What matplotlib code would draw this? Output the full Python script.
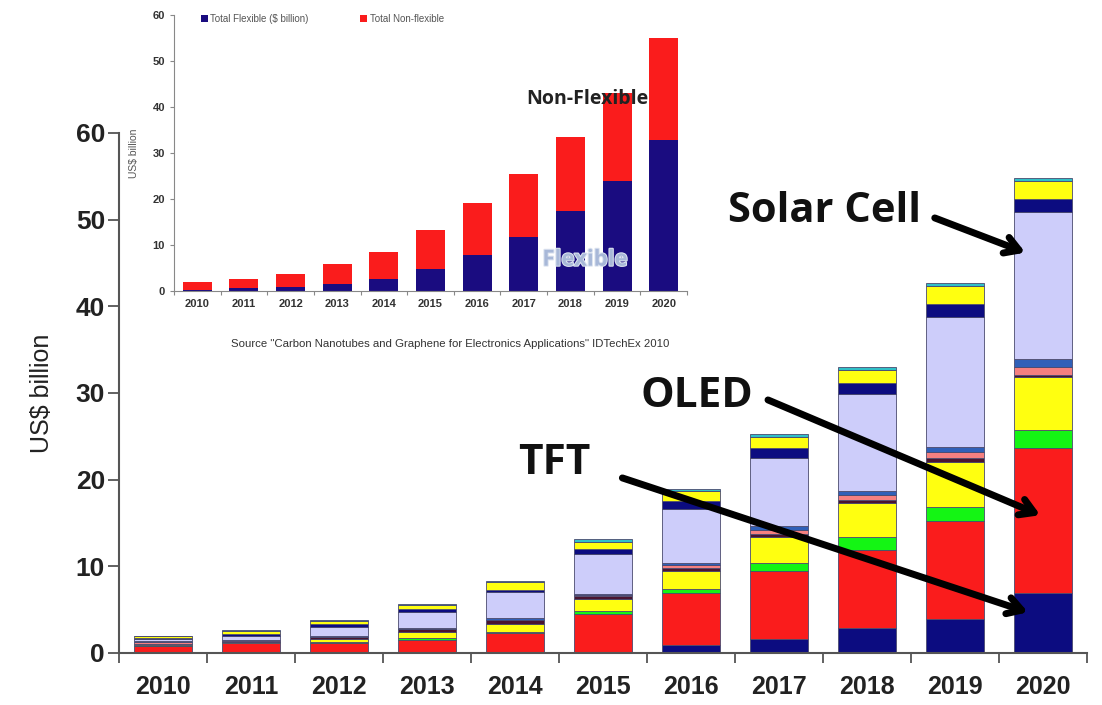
import matplotlib
matplotlib.use("Agg")
import matplotlib.pyplot as plt
import matplotlib.patheffects as pe
import numpy as np

plt.rcParams['font.family'] = ['Liberation Sans', 'DejaVu Sans']

years = ["2010", "2011", "2012", "2013", "2014", "2015", "2016", "2017", "2018", "2019", "2020"]

# main stacked series (bottom to top), US$ billion
tft_navy = [0.05, 0.05, 0.05, 0.05, 0.05, 0.15, 0.9, 1.6, 2.85, 3.9, 6.9]
oled_red = [0.8, 1.05, 1.1, 1.5, 2.3, 4.4, 6.0, 7.9, 9.0, 11.3, 16.8]
green_s = [0.05, 0.05, 0.1, 0.2, 0.05, 0.35, 0.5, 0.85, 1.5, 1.7, 2.0]
yellow_a = [0.1, 0.1, 0.4, 0.7, 1.0, 1.35, 2.1, 3.0, 4.0, 5.1, 6.2]
dark_s = [0.05, 0.15, 0.2, 0.3, 0.4, 0.35, 0.35, 0.4, 0.3, 0.46, 0.2]
salmon_s = [0.25, 0.05, 0.05, 0.05, 0.05, 0.1, 0.35, 0.45, 0.6, 0.7, 0.9]
steel_s = [0.1, 0.05, 0.05, 0.05, 0.15, 0.15, 0.2, 0.4, 0.5, 0.66, 0.9]
solar_lav = [0.2, 0.45, 1.05, 1.9, 3.0, 4.55, 6.2, 7.9, 11.1, 15.0, 17.0]
navy_b = [0.15, 0.2, 0.35, 0.3, 0.3, 0.55, 0.95, 1.15, 1.27, 1.5, 1.5]
yellow_b = [0.2, 0.35, 0.4, 0.45, 0.85, 0.9, 1.15, 1.3, 1.55, 2.0, 2.1]
teal_s = [0.05, 0.1, 0.05, 0.2, 0.15, 0.25, 0.25, 0.3, 0.38, 0.38, 0.3]

# inset series
inset_flex = [0.3, 0.6, 0.8, 1.6, 2.7, 4.7, 7.8, 11.8, 17.3, 24.0, 32.8]
inset_nonflex = [1.7, 2.1, 3.0, 4.2, 5.8, 8.6, 11.3, 13.6, 16.2, 19.0, 22.3]

series = [tft_navy, oled_red, green_s, yellow_a, dark_s, salmon_s, steel_s,
          solar_lav, navy_b, yellow_b, teal_s]
colors = ['#0c0c80', '#fa1c1c', '#14f514', '#ffff10', '#4a1530', '#f58080',
          '#3060b8', '#cdcdfa', '#0c0c80', '#ffff10', '#30c0c8']

W, H = 1102, 705
fig = plt.figure(figsize=(W / 100, H / 100), dpi=100)

ax = fig.add_axes([119 / W, 1 - 653 / H, (1087 - 119) / W, (653 - 133) / H])
x = np.arange(len(years))
bottom = np.zeros(len(years))
for vals, c in zip(series, colors):
    ax.bar(x, vals, bottom=bottom, width=0.67, color=c, edgecolor='#4a4a6e',
           linewidth=0.6)
    bottom += np.array(vals)

ax.set_xlim(-0.5, len(years) - 0.5)
ax.set_ylim(0, 60)
ax.set_yticks(np.arange(0, 61, 10))
ax.set_xticks(x)
ax.set_xticklabels(years)
ax.set_xticks(np.arange(-0.5, len(years), 1), minor=True)
ax.tick_params(axis='x', which='major', length=0, pad=16, labelsize=18,
               labelcolor='#222222')
ax.tick_params(axis='x', which='minor', length=7, width=1.3, color='#555555',
               direction='out')
ax.tick_params(axis='y', length=8, width=1.3, color='#555555', labelsize=19,
               labelcolor='#222222', pad=2)
for lab in ax.get_xticklabels() + ax.get_yticklabels():
    lab.set_fontweight('bold')
for s in ['top', 'right']:
    ax.spines[s].set_visible(False)
for s in ['left', 'bottom']:
    ax.spines[s].set_color('#555555')
    ax.spines[s].set_linewidth(1.5)
ax.set_ylabel('US$ billion', fontsize=18, color='#222222', labelpad=16)

# annotations
ann_font = ['Open Sans', 'DejaVu Sans']
arrow_kw = dict(arrowstyle='->,head_length=1.0,head_width=0.6', lw=5,
                color='black', shrinkA=0, shrinkB=0)
ax.annotate('', xy=(9.80, 46.2), xytext=(8.77, 50.2), arrowprops=arrow_kw)
ax.annotate('', xy=(9.97, 15.9), xytext=(6.875, 29.2), arrowprops=arrow_kw)
ax.annotate('', xy=(9.83, 4.7), xytext=(5.22, 20.2), arrowprops=arrow_kw)
ax.text(7.52, 51.0, 'Solar Cell', fontsize=30, fontweight='bold',
        family=ann_font, ha='center', va='center', color='#111111')
ax.text(6.07, 29.6, 'OLED', fontsize=30.5, fontweight='bold',
        family=ann_font, ha='center', va='center', color='#111111')
ax.text(4.45, 21.9, 'TFT', fontsize=30.5, fontweight='bold',
        family=ann_font, ha='center', va='center', color='#111111')

# inset
axi = fig.add_axes([174 / W, 1 - 291 / H, (687 - 174) / W, (291 - 15) / H])
axi.set_facecolor('white')
axi.bar(x, inset_flex, width=0.62, color='#1a0c80', label='Total Flexible ($ billion)')
axi.bar(x, inset_nonflex, bottom=inset_flex, width=0.62, color='#fa1c1c',
        label='Total Non-flexible')
axi.set_xlim(-0.5, len(years) - 0.5)
axi.set_ylim(0, 60)
axi.set_yticks(np.arange(0, 61, 10))
axi.set_xticks(x)
axi.set_xticklabels(years)
axi.set_xticks(np.arange(-0.5, len(years), 1), minor=True)
axi.tick_params(axis='x', which='major', length=0, pad=6, labelsize=8,
                labelcolor='#333333')
axi.tick_params(axis='x', which='minor', length=3, width=0.8, color='#888888')
axi.tick_params(axis='y', length=3, width=0.8, color='#888888', labelsize=8,
                labelcolor='#333333')
for lab in axi.get_xticklabels() + axi.get_yticklabels():
    lab.set_fontweight('bold')
for s in ['top', 'right']:
    axi.spines[s].set_visible(False)
for s in ['left', 'bottom']:
    axi.spines[s].set_color('#888888')
    axi.spines[s].set_linewidth(0.8)
axi.set_ylabel('US$ billion', fontsize=7.5, color='#555555', labelpad=10)
axi.legend(loc='upper left', bbox_to_anchor=(0.035, 1.035), ncol=2, frameon=False,
           fontsize=7, handlelength=0.7, handleheight=0.7, handletextpad=0.3,
           columnspacing=5.3, labelcolor='#555555')
axi.text(8.36, 41.7, 'Non-Flexible', fontsize=14, fontweight='bold',
         family=ann_font, ha='center', va='center', color='#222222')
axi.text(8.32, 6.7, 'Flexible', fontsize=16, fontweight='bold',
         family=ann_font, ha='center', va='center', color='#a8b8d8',
         path_effects=[pe.withStroke(linewidth=1.5, foreground='#dde4f0')])
fig.text(450 / W, 1 - 344 / H,
         'Source "Carbon Nanotubes and Graphene for Electronics Applications" IDTechEx 2010',
         fontsize=8.2, color='#333333', ha='center', va='center')

fig.savefig('out.png', dpi=100)
